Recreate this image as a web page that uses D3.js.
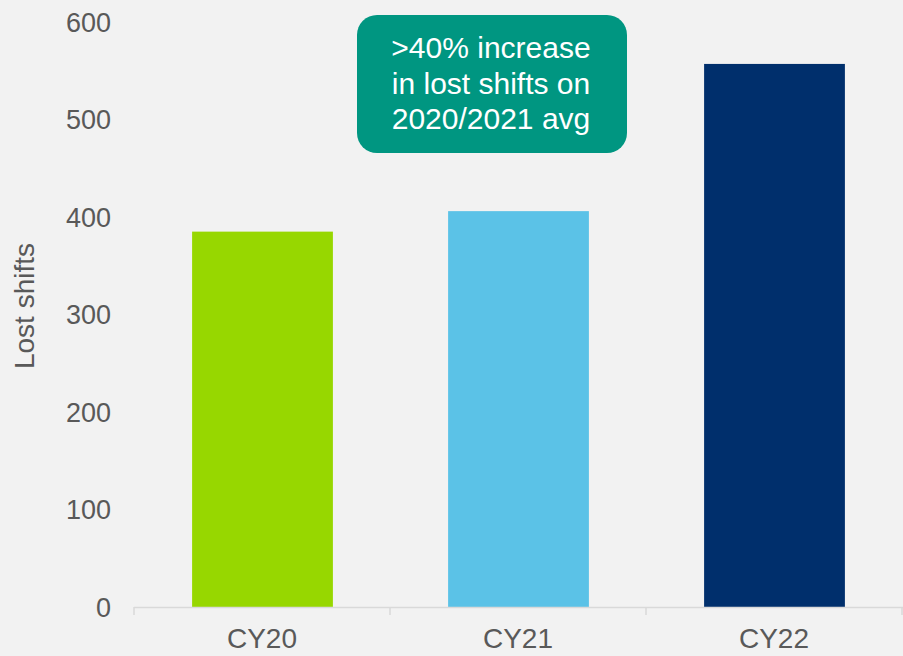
<!DOCTYPE html>
<html lang="en">
<head>
<meta charset="UTF-8">
<title>Lost shifts</title>
<script src="https://d3js.org/d3.v7.min.js"></script>
<style>
  body { margin: 0; background: #f2f2f2; font-family: Arial, 'Liberation Sans', sans-serif; }
  svg { display: block; }
</style>
</head>
<body>
<svg width="903" height="656"></svg>
<script>
const categories = ["CY20", "CY21", "CY22"];
const lostShifts = [385, 406, 557];
const barColors = ["#97d700", "#5bc2e7", "#002f6c"];
const yTicks = [0, 100, 200, 300, 400, 500, 600];
const calloutLines = [">40% increase", "in lost shifts on", "2020/2021 avg"];

const svg = d3.select("svg");
const textColor = "#595959";

const x = d3.scaleBand().domain(categories).range([134, 902]).paddingInner(0).paddingOuter(0);
const y = d3.scaleLinear().domain([0, 600]).range([607, 22]);

// background
svg.append("rect").attr("width", 903).attr("height", 656).attr("fill", "#f2f2f2");

// bars (about 55% of the band)
const barW = x.bandwidth() * 0.55;
svg.selectAll("rect.bar")
  .data(categories)
  .join("rect")
  .attr("class", "bar")
  .attr("x", d => x(d) + (x.bandwidth() - barW) / 2 + 0.5)
  .attr("y", (d, i) => y(lostShifts[i]))
  .attr("width", barW)
  .attr("height", (d, i) => y(0) - y(lostShifts[i]))
  .attr("fill", (d, i) => barColors[i]);

// x axis line with category separators
const xAxis = svg.append("g");
xAxis.append("line")
  .attr("x1", 134).attr("x2", 903)
  .attr("y1", y(0) + 0.5).attr("y2", y(0) + 0.5)
  .attr("stroke", "#d9d9d9").attr("stroke-width", 1.5);
const edges = categories.map(c => x(c)).concat([x.range()[1]]);
xAxis.selectAll("line.sep")
  .data(edges)
  .join("line")
  .attr("class", "sep")
  .attr("x1", d => d).attr("x2", d => d)
  .attr("y1", y(0)).attr("y2", y(0) + 8)
  .attr("stroke", "#d9d9d9").attr("stroke-width", 1.5);
xAxis.selectAll("text")
  .data(categories)
  .join("text")
  .attr("x", d => x(d) + x.bandwidth() / 2)
  .attr("y", 648)
  .attr("text-anchor", "middle")
  .attr("font-size", "28px")
  .attr("fill", textColor)
  .text(d => d);

// y axis labels
svg.append("g")
  .selectAll("text")
  .data(yTicks)
  .join("text")
  .attr("x", 111)
  .attr("y", d => y(d))
  .attr("dy", "0.36em")
  .attr("text-anchor", "end")
  .attr("font-size", "27px")
  .attr("fill", textColor)
  .text(d => d);

svg.append("text")
  .attr("transform", "translate(34,306) rotate(-90)")
  .attr("text-anchor", "middle")
  .attr("font-size", "28px")
  .attr("fill", textColor)
  .text("Lost shifts");

// callout box
const callout = svg.append("g");
callout.append("rect")
  .attr("x", 357).attr("y", 15)
  .attr("width", 270).attr("height", 138)
  .attr("rx", 20).attr("ry", 20)
  .attr("fill", "#009681");
callout.selectAll("text")
  .data(calloutLines)
  .join("text")
  .attr("x", 491)
  .attr("y", (d, i) => 58 + i * 35.5)
  .attr("text-anchor", "middle")
  .attr("font-size", "30px")
  .attr("fill", "#ffffff")
  .text(d => d);
</script>
</body>
</html>
